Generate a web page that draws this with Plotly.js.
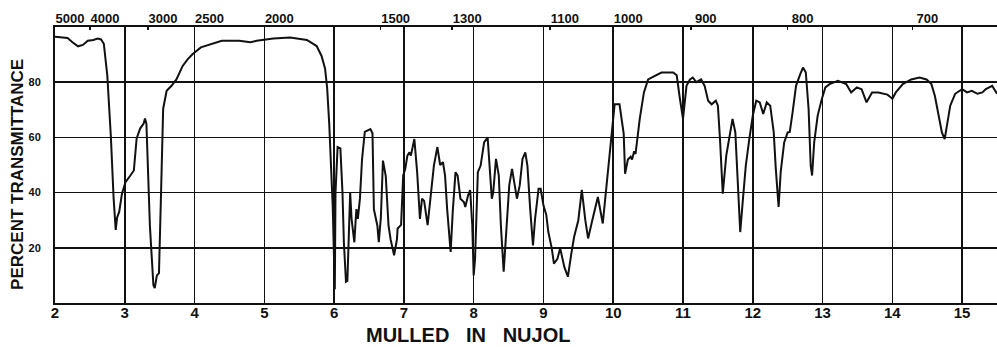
<!DOCTYPE html>
<html>
<head>
<meta charset="utf-8">
<script src="https://cdn.plot.ly/plotly-3.0.1.min.js"></script>
<style>html,body{margin:0;padding:0;background:#fff;}#chart{width:997px;height:347px;}</style>
</head>
<body>
<div id="chart"></div>
<script>
// Wavelength in microns
var wavelength = [
2.00,2.10,2.18,2.25,2.33,2.40,2.47,2.55,2.61,2.66,2.70,2.75,2.80,2.84,2.87,2.89,2.92,2.96,3.01,3.08,
3.13,3.17,3.22,3.27,3.29,3.31,3.36,3.41,3.43,3.46,3.49,3.52,3.55,3.60,3.67,3.74,3.83,3.90,3.97,4.09,
4.20,4.39,4.64,4.80,4.89,5.13,5.37,5.61,5.75,5.82,5.87,5.90,5.93,5.96,5.98,6.00,6.01,6.02,6.05,6.09,
6.12,6.14,6.17,6.19,6.21,6.23,6.25,6.29,6.31,6.32,6.34,6.37,6.40,6.44,6.52,6.55,6.57,6.62,6.64,6.67,
6.70,6.74,6.78,6.81,6.86,6.90,6.91,6.96,6.99,7.02,7.05,7.08,7.10,7.15,7.19,7.23,7.26,7.29,7.34,7.38,
7.43,7.48,7.52,7.56,7.59,7.62,7.67,7.70,7.74,7.77,7.81,7.86,7.88,7.92,7.95,7.98,8.00,8.02,8.06,8.10,
8.15,8.20,8.23,8.26,8.28,8.32,8.36,8.39,8.43,8.47,8.51,8.55,8.59,8.62,8.66,8.70,8.74,8.77,8.81,8.85,
8.88,8.93,8.96,9.00,9.04,9.07,9.12,9.15,9.20,9.24,9.30,9.35,9.40,9.44,9.50,9.55,9.60,9.64,9.70,9.78,
9.85,9.90,9.97,10.02,10.09,10.15,10.17,10.21,10.25,10.27,10.30,10.32,10.38,10.44,10.50,10.60,10.69,10.86,10.91,10.95,
11.00,11.05,11.10,11.14,11.19,11.26,11.31,11.36,11.41,11.47,11.50,11.53,11.55,11.57,11.62,11.67,11.71,11.75,11.79,11.82,
11.86,11.90,11.95,12.00,12.05,12.10,12.15,12.20,12.25,12.30,12.33,12.37,12.40,12.45,12.50,12.53,12.57,12.62,12.68,12.72,
12.76,12.80,12.83,12.85,12.88,12.93,12.99,13.04,13.10,13.22,13.34,13.41,13.49,13.56,13.63,13.71,13.80,13.93,13.98,14.00,
14.05,14.15,14.27,14.39,14.49,14.56,14.61,14.66,14.71,14.75,14.78,14.83,14.90,15.00,15.07,15.14,15.22,15.29,15.34,15.43,
15.50
];
// Percent transmittance
var transmittance = [
96.5,96.3,96.0,94.5,93.0,93.5,95.0,95.3,95.8,95.5,93.9,82.3,60.6,38.0,26.5,31.0,33.0,39.7,43.8,46.2,
48.0,59.6,63.2,65.0,66.8,65.0,28.0,6.5,5.4,10.0,10.8,40.0,70.4,76.9,78.7,81.0,85.9,88.3,90.1,92.6,
93.5,95.0,95.0,94.5,95.0,95.8,96.2,95.3,93.1,89.5,85.0,78.0,65.0,50.0,35.0,15.0,5.0,40.0,56.5,56.0,
40.0,22.0,7.7,8.0,28.0,40.0,30.5,22.0,30.5,34.0,30.5,37.8,52.0,62.0,63.0,61.5,34.0,28.0,22.0,31.0,
51.6,46.0,28.0,23.0,17.3,23.0,27.0,28.3,46.2,48.6,53.4,54.6,53.4,59.4,47.4,30.5,37.8,37.0,28.2,37.8,
49.8,56.5,50.0,51.0,46.2,34.0,18.5,33.0,47.4,46.2,37.8,36.6,34.8,39.0,40.9,28.2,10.0,16.0,47.4,49.8,
58.2,60.0,49.8,37.8,40.0,52.2,46.2,28.2,11.3,26.5,42.6,48.6,41.4,37.8,42.6,52.2,54.6,49.8,34.0,20.9,
30.5,41.4,41.4,35.4,32.0,25.7,19.7,14.3,16.0,19.8,13.0,9.5,18.0,24.0,30.0,41.0,30.0,23.4,30.0,38.4,
28.8,42.0,58.8,72.0,72.0,61.4,46.8,52.0,53.0,52.0,55.0,54.0,66.7,76.3,81.0,82.3,83.5,83.5,82.5,75.0,
66.7,78.7,81.0,81.7,80.0,81.0,78.7,73.3,72.0,73.3,71.5,59.4,46.2,39.6,53.4,61.8,66.7,61.8,40.2,25.7,
38.0,49.8,59.4,67.9,73.3,72.7,68.5,72.7,71.5,61.9,48.6,34.8,47.4,58.2,61.8,62.0,69.0,78.7,82.9,85.3,
83.5,70.3,49.8,46.2,58.2,67.9,73.9,78.1,79.3,80.5,79.3,76.3,78.1,77.4,72.7,76.3,76.3,75.5,74.5,74.0,
76.3,79.3,81.0,81.7,81.0,79.3,75.0,67.9,61.8,59.4,64.0,71.5,75.8,77.5,76.3,76.9,75.8,76.3,77.5,78.7,
75.8
];
// Tick labels
var micronTicks = [2,3,4,5,6,7,8,9,10,11,12,13,14,15];
var yTicks = [20,40,60,80];
var wavenumbers = [5000,4000,3000,2500,2000,1500,1300,1100,1000,900,800,700];
var yTitle = "PERCENT TRANSMITTANCE";
var bottomTitle = "MULLED\u00A0\u00A0\u00A0IN\u00A0\u00A0\u00A0NUJOL";

var FONT = "Liberation Sans, Arial, sans-serif";

var traces = [
  {x: wavelength, y: transmittance, type: 'scatter', mode: 'lines',
   line: {color: '#111', width: 2}, hoverinfo: 'skip', showlegend: false},
  {x: [], y: [], xaxis: 'x2', yaxis: 'y', type: 'scatter', mode: 'lines', showlegend: false, hoverinfo: 'skip'}
];

var layout = {
  width: 997, height: 347,
  margin: {l: 55, r: 0, t: 27, b: 44, pad: 0},
  paper_bgcolor: '#fff', plot_bgcolor: '#fff',
  showlegend: false,
  xaxis: {
    range: [2, 15.5], tickmode: 'array', tickvals: micronTicks, ticktext: micronTicks.map(String),
    showgrid: true, gridcolor: '#111', gridwidth: 1.6,
    showline: true, linecolor: '#111', linewidth: 2, mirror: true,
    zeroline: false, ticks: '', ticklabelstandoff: -5,
    tickfont: {family: FONT, size: 15, color: '#111', weight: 'bold'},
    fixedrange: true
  },
  xaxis2: {
    overlaying: 'x', side: 'top', anchor: 'y',
    range: [2, 15.5], tickmode: 'array',
    tickvals: wavenumbers.map(function(w){return 10000 / w;}),
    ticktext: wavenumbers.map(String),
    showgrid: false, zeroline: false, showline: false,
    ticks: 'inside', ticklen: 3, tickcolor: '#111', tickwidth: 1.5,
    ticklabelshift: 15,
    tickfont: {family: FONT, size: 13, color: '#111', weight: 'bold'},
    fixedrange: true
  },
  yaxis: {
    range: [0, 100], tickmode: 'array', tickvals: yTicks, ticktext: yTicks.map(String),
    showgrid: true, gridcolor: '#111', gridwidth: 1.6,
    showline: true, linecolor: '#111', linewidth: 2, mirror: true,
    zeroline: false, ticks: '', ticklabelstandoff: 10,
    tickfont: {family: FONT, size: 11, color: '#111', weight: 'bold'},
    fixedrange: true
  },
  annotations: [
    {text: yTitle, xref: 'paper', yref: 'paper', x: 0, y: 0.464, xshift: -37,
     xanchor: 'center', yanchor: 'middle', textangle: -90, showarrow: false,
     font: {family: FONT, size: 17, color: '#111', weight: 'bold'}},
    {text: bottomTitle, xref: 'paper', yref: 'paper', x: 0.438, y: 0, yshift: -32, borderpad: 0,
     xanchor: 'center', yanchor: 'middle', showarrow: false,
     font: {family: FONT, size: 20, color: '#111', weight: 'bold'}}
  ]
};

Plotly.newPlot('chart', traces, layout, {displayModeBar: false, staticPlot: true});
</script>
</body>
</html>
